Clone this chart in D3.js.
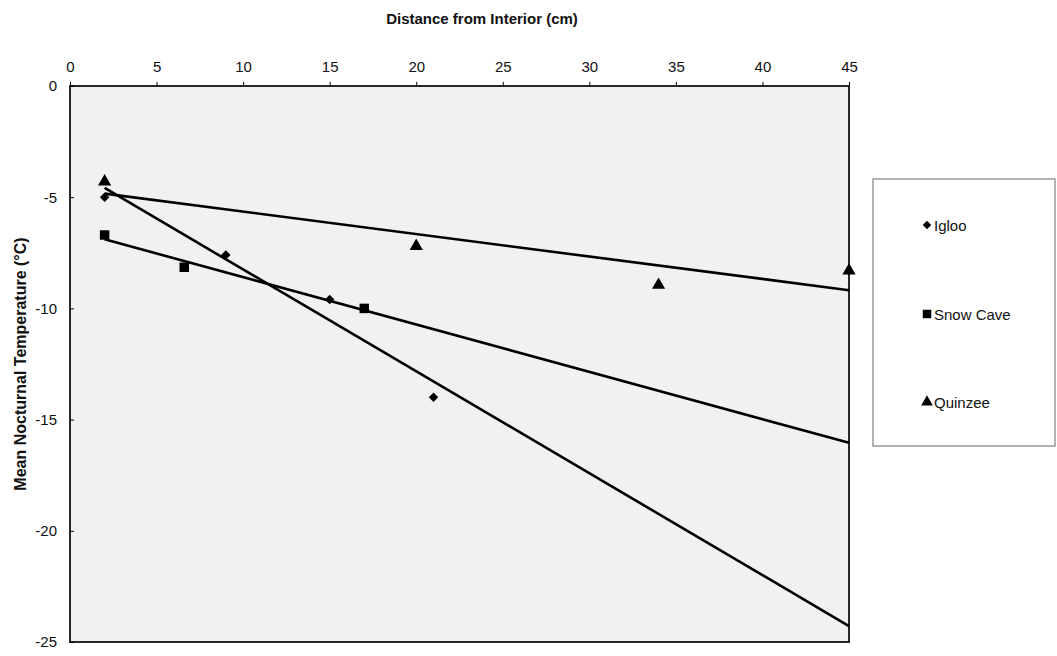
<!DOCTYPE html>
<html>
<head>
<meta charset="utf-8">
<script src="https://cdnjs.cloudflare.com/ajax/libs/d3/7.8.5/d3.min.js"></script>
<style>
  body { margin:0; background:#fff; }
  text { font-family: "Liberation Sans", Arial, sans-serif; fill:#111; }
</style>
</head>
<body>
<svg id="chart" width="1057" height="656"></svg>
<script>
// ---- data ----
var seriesNames = ["Igloo", "Snow Cave", "Quinzee"];
var iglooX = [2, 9, 15, 21];
var iglooY = [-5.0, -7.6, -9.6, -14.0];
var caveX = [2, 6.6, 17];
var caveY = [-6.7, -8.15, -10.0];
var quinzeeX = [2, 20, 34, 45];
var quinzeeY = [-4.3, -7.2, -8.95, -8.3];
var xTicks = [0, 5, 10, 15, 20, 25, 30, 35, 40, 45];
var yTicks = [0, -5, -10, -15, -20, -25];

// diamond = square turned 45deg
var MARKERS = [d3.symbolSquare, d3.symbolSquare, d3.symbolTriangle];
var MARKER_SIZE = [45, 90, 75];
var MARKER_ROT = [45, 0, 0];

var svg = d3.select("#chart");

var x = d3.scaleLinear().domain([0, 45]).range([70, 849]);
var y = d3.scaleLinear().domain([0, -25]).range([86, 642]);
var fmt = function(d){ return String(d); };   // plain hyphen minus like the scan

// plot area
svg.append("rect")
  .attr("x", x(0)).attr("y", y(0))
  .attr("width", x(45) - x(0)).attr("height", y(-25) - y(0))
  .style("fill", "#f1f1f1").style("stroke", "#111").style("stroke-width", 1.8);

// top axis
var xAxis = svg.append("g").attr("transform", "translate(0," + y(0) + ")")
  .call(d3.axisTop(x).tickValues(xTicks).tickFormat(fmt).tickSize(4).tickPadding(10));
xAxis.select(".domain").remove();
xAxis.selectAll("text").style("font-size", "15px");

// left axis, cross ticks
var yAxis = svg.append("g").attr("transform", "translate(" + x(0) + ",0)")
  .call(d3.axisLeft(y).tickValues(yTicks).tickFormat(fmt).tickSize(4).tickPadding(9));
yAxis.select(".domain").remove();
yAxis.selectAll(".tick line").attr("x2", 4);
yAxis.selectAll("text").style("font-size", "15px");

// axis titles
svg.append("text").attr("x", 482).attr("y", 24).attr("text-anchor", "middle")
  .style("font-size", "15px").style("font-weight", "bold").text("Distance from Interior (cm)");
svg.append("text").attr("transform", "translate(26,364) rotate(-90)").attr("text-anchor", "middle")
  .style("font-size", "16px").style("font-weight", "bold").text("Mean Nocturnal Temperature (\u00B0C)");

// linear trendlines, from first point to axis end
function fit(xs, ys){
  var mx = d3.mean(xs), my = d3.mean(ys), sxx = 0, sxy = 0;
  for (var i = 0; i < xs.length; i++){ sxx += (xs[i]-mx)*(xs[i]-mx); sxy += (xs[i]-mx)*(ys[i]-my); }
  var b = sxy / sxx;
  return function(v){ return my + b*(v - mx); };
}

var series = [[iglooX, iglooY], [caveX, caveY], [quinzeeX, quinzeeY]];
var gLines = svg.append("g").attr("id", "trend");
series.forEach(function(s){
  var f = fit(s[0], s[1]);
  var x0 = d3.min(s[0]);
  gLines.append("line")
    .attr("x1", x(x0)).attr("y1", y(f(x0)))
    .attr("x2", x(45)).attr("y2", y(f(45)))
    .style("stroke", "#000").style("stroke-width", 2.6);
});

// markers
var gPts = svg.append("g").attr("id", "points");
series.forEach(function(s, k){
  var sym = d3.symbol().type(MARKERS[k]).size(MARKER_SIZE[k]);
  gPts.selectAll(".p" + k)
    .data(d3.zip(s[0], s[1]))
    .enter().append("path")
    .attr("class", "p" + k)
    .attr("d", sym)
    .attr("transform", function(d){ return "translate(" + x(d[0]) + "," + y(d[1]) + ") rotate(" + MARKER_ROT[k] + ")"; })
    .style("fill", "#000");
});

// legend
var gLeg = svg.append("g").attr("id", "legend");
gLeg.append("rect").attr("x", 873).attr("y", 179).attr("width", 182).attr("height", 267)
  .style("fill", "#fff").style("stroke", "#666").style("stroke-width", 1);
var legY = [225, 314, 402];
seriesNames.forEach(function(n, k){
  var sym = d3.symbol().type(MARKERS[k]).size(MARKER_SIZE[k] * 0.8);
  gLeg.append("path").attr("d", sym)
    .attr("transform", "translate(927," + legY[k] + ") rotate(" + MARKER_ROT[k] + ")").style("fill", "#000");
  gLeg.append("text").attr("x", 934).attr("y", legY[k] + 5.5)
    .style("font-size", "15px").text(n);
});
</script>
</body>
</html>
